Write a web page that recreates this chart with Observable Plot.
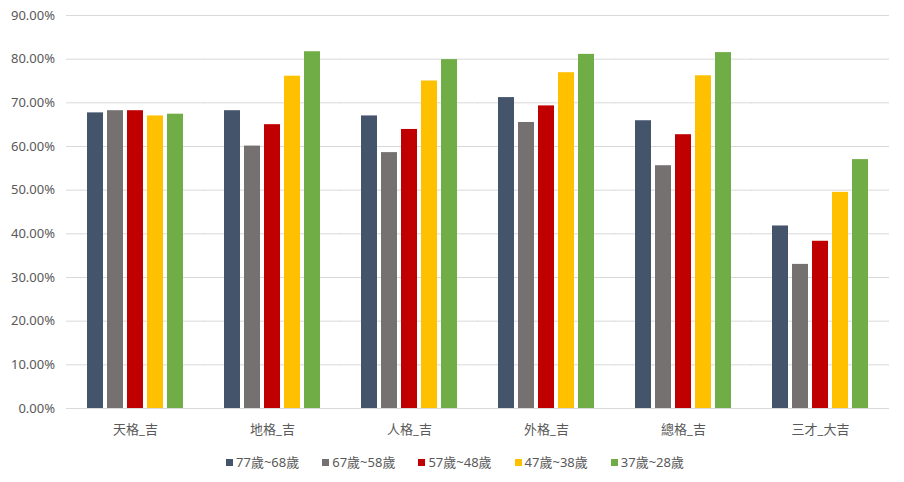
<!DOCTYPE html>
<html>
<head>
<meta charset="utf-8">
<script src="https://cdn.jsdelivr.net/npm/d3@7"></script>
<script src="https://cdn.jsdelivr.net/npm/@observablehq/plot@0.6"></script>
<style>
  body { margin: 0; background: #fff; font-family: "Noto Sans", "Noto Sans CJK TC", sans-serif; }
  #legend { display: flex; justify-content: center; gap: 23px; padding-top: 5px; padding-left: 6px; font-size: 13px; line-height: 18px; color: #595959; }
  #legend .item { display: flex; align-items: center; gap: 3px; }
  #legend .sw { width: 7px; height: 7px; display: inline-block; }
</style>
</head>
<body>
<div id="chart"></div>
<div id="legend"></div>
<script>
const categories = ["天格_吉", "地格_吉", "人格_吉", "外格_吉", "總格_吉", "三才_大吉"];
const series = ["77歲~68歲", "67歲~58歲", "57歲~48歲", "47歲~38歲", "37歲~28歲"];
const colors = ["#44546A", "#767171", "#C00000", "#FFC000", "#70AD47"];
const age77_68 = [67.7, 68.2, 67.0, 71.2, 65.9, 41.8];
const age67_58 = [68.2, 60.1, 58.6, 65.5, 55.6, 33.0];
const age57_48 = [68.2, 65.0, 63.9, 69.3, 62.7, 38.3];
const age47_38 = [67.0, 76.1, 75.0, 76.9, 76.2, 49.5];
const age37_28 = [67.4, 81.7, 79.9, 81.1, 81.5, 57.0];
const yTicks = [0, 10, 20, 30, 40, 50, 60, 70, 80, 90];

const valuesBySeries = [age77_68, age67_58, age57_48, age47_38, age37_28];
const data = [];
categories.forEach((c, i) => {
  series.forEach((s, j) => data.push({category: c, series: s, value: valuesBySeries[j][i]}));
});

const width = 904, marginLeft = 67, marginRight = 15;
const fxPadInner = 0.27, fxPadOuter = 0.135;
const step = (width - marginLeft - marginRight) / (categories.length - fxPadInner + 2 * fxPadOuter);
const halfGap = step * fxPadInner / 2;
const font = '"Noto Sans", "Noto Sans CJK TC", sans-serif';

const chart = Plot.plot({
  width,
  height: 448,
  marginLeft,
  marginRight,
  marginTop: 15,
  marginBottom: 40,
  style: {fontFamily: font, fontSize: "13px", color: "#595959"},
  fx: {domain: categories, paddingInner: fxPadInner, paddingOuter: fxPadOuter, label: null, axis: null},
  x: {domain: series, paddingInner: 0.21, paddingOuter: 0, axis: null},
  y: {domain: [0, 90], label: null, axis: null},
  color: {domain: series, range: colors},
  marks: [
    Plot.ruleY(yTicks, {y: d => d, stroke: "#d9d9d9", strokeWidth: 1, insetLeft: -halfGap - 0.5, insetRight: -halfGap - 0.5}),
    Plot.barY(data, {fx: "category", x: "series", y: "value", fill: "series"}),
    Plot.axisY(yTicks, {tickSize: 0, tickPadding: 12 + halfGap, tickFormat: d => d.toFixed(2) + "%", fill: "#595959", fontSize: 13, label: null}),
    Plot.axisFx({anchor: "bottom", tickSize: 0, tickPadding: 16, fill: "#595959", fontSize: 13, label: null})
  ]
});
document.getElementById("chart").appendChild(chart);

const legend = document.getElementById("legend");
series.forEach((s, j) => {
  const item = document.createElement("div");
  item.className = "item";
  const sw = document.createElement("span");
  sw.className = "sw";
  sw.style.background = colors[j];
  const t = document.createElement("span");
  t.textContent = s;
  item.appendChild(sw);
  item.appendChild(t);
  legend.appendChild(item);
});
</script>
</body>
</html>
